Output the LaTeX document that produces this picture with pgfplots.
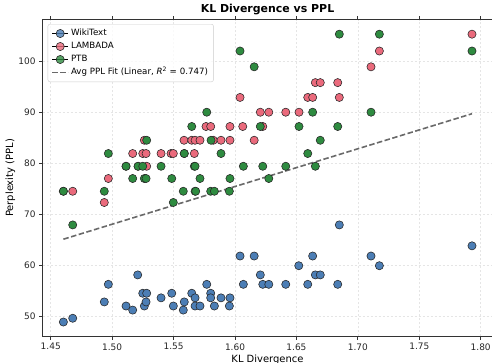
\documentclass[border=0pt]{standalone}
\usepackage{fontspec}
\setmainfont{DejaVu Sans}
\usepackage{pgfplots}
\usepackage{pgfplotstable}
\pgfplotsset{compat=1.18}
\definecolor{cwiki}{RGB}{76,126,181}
\definecolor{clam}{RGB}{234,106,124}
\definecolor{cptb}{RGB}{46,139,64}
\definecolor{spine}{RGB}{51,51,51}
\definecolor{fitc}{RGB}{105,105,105}

\pgfplotsset{
  scatter legend/.style={legend image code/.code={\path (0bp,0bp) -- (16bp,0bp); \draw[##1] plot coordinates {(8bp,0bp)};}},
  fit legend/.style={legend image code/.code={\draw[##1] (0bp,0bp) -- (16bp,0bp);}},
  mkstyle/.style={only marks, mark=*, mark size=4.1bp, mark options={draw=black!85, line width=0.55bp, fill=#1}},
  fitstyle/.style={fitc, dash pattern=on 5.5bp off 2.5bp, line width=1.6bp},
}

\pgfplotstableread{
x y
1.4603 48.96
1.4679 49.7
1.4936 52.9
1.4969 56.35
1.5113 52.1
1.5167 51.3
1.5208 58.2
1.5249 54.6
1.5262 52.1
1.5276 52.9
1.5281 54.6
1.5398 53.7
1.5485 54.6
1.5498 52.1
1.5579 51.3
1.5587 52.9
1.5648 54.6
1.5675 53.7
1.5675 52.1
1.5715 52.1
1.5770 56.35
1.5802 54.6
1.5802 53.7
1.5832 52.1
1.5886 53.7
1.5959 53.7
1.5954 52.1
1.6041 61.9
1.6068 56.35
1.6156 61.9
1.6206 58.2
1.6226 56.35
1.6275 56.35
1.6413 56.35
1.6519 60.0
1.6592 56.35
1.6632 61.9
1.6654 58.2
1.6694 58.2
1.6836 56.35
1.6849 68.0
1.7107 61.9
1.7175 60.0
1.7929 63.9
}\wiki

\pgfplotstableread{
x y
1.4603 74.6
1.5113 79.5
1.5211 79.5
1.5587 82.0
1.7929 105.4
1.7175 102.1
1.7107 99.0
1.6654 95.9
1.6694 95.9
1.6836 95.9
1.6041 93.0
1.6592 93.0
1.6632 93.0
1.6849 93.0
1.6206 90.1
1.6275 90.1
1.6413 90.1
1.6521 90.1
1.5764 87.3
1.5802 87.3
1.5959 87.3
1.6063 87.3
1.6226 87.3
1.5262 84.6
1.5585 84.6
1.5648 84.6
1.5675 84.6
1.5715 84.6
1.5823 84.6
1.5886 84.6
1.5959 84.6
1.6156 84.6
1.5167 82.0
1.5249 82.0
1.5276 82.0
1.5398 82.0
1.5479 82.0
1.5498 82.0
1.5669 82.0
1.5281 79.5
1.4969 77.1
1.4679 74.6
1.4936 72.4
}\lambada

\pgfplotstableread{
x y
1.6849 105.4
1.7175 105.4
1.6041 102.1
1.7929 102.1
1.6156 99.0
1.5770 90.1
1.6632 90.1
1.7107 90.1
1.5648 87.3
1.6206 87.3
1.6521 87.3
1.6836 87.3
1.5281 84.6
1.5805 84.6
1.6694 84.6
1.4969 82.0
1.5587 82.0
1.5886 82.0
1.6592 82.0
1.5113 79.5
1.5211 79.5
1.5249 79.5
1.5398 79.5
1.5669 79.5
1.5675 79.5
1.6068 79.5
1.6226 79.5
1.6413 79.5
1.6654 79.5
1.5167 77.1
1.5262 77.1
1.5276 77.1
1.5485 77.1
1.5715 77.1
1.5959 77.1
1.6275 77.1
1.4603 74.6
1.4936 74.6
1.5579 74.6
1.5675 74.6
1.5680 74.6
1.5802 74.6
1.5832 74.6
1.5954 74.6
1.5498 72.4
1.4679 68.0
}\ptb

\pgfplotstableread{
x y
1.4603 65.2
1.7929 89.8
}\fit

\begin{document}
\begin{tikzpicture}[x=1bp,y=1bp]
\useasboundingbox (0,0) rectangle (492,362);
\begin{axis}[
  at={(42.5bp,25.6bp)}, anchor=south west,
  scale only axis, width=450bp, height=316.5bp,
  xmin=1.4433, xmax=1.8096, ymin=46.14, ymax=108.2,
  xtick={1.45,1.50,1.55,1.60,1.65,1.70,1.75,1.80},
  ytick={50,60,70,80,90,100},
  /pgf/number format/assume math mode=true,
  xticklabel={\pgfmathprintnumber[fixed,fixed zerofill,precision=2]{\tick}},
  tick label style={font=\fontsize{9}{10}\selectfont, color=black!85},
  tick align=outside, major tick length=3.5bp,
  tick style={spine, line width=0.8bp},
  axis line style={spine, line width=0.9bp},
  grid=major,
  major grid style={black!10, dash pattern=on 2bp off 2bp, line width=0.5bp},
  legend style={at={(0.0116,0.987)}, anchor=north west, draw=black!20,
    rounded corners=2bp, fill=white, fill opacity=0.8, text opacity=1, draw opacity=1,
    inner xsep=3.5bp, inner ysep=2.8bp, font=\fontsize{8.7}{9.5}\selectfont,
    nodes={text height=6.4bp, text depth=1.8bp, inner ysep=2.4bp},
    row sep=0bp, /tikz/every even column/.append style={column sep=6.5bp}},
  legend cell align=left,
]
\addplot[fitstyle, forget plot] table[x=x,y=y] {\fit};
\addplot[mkstyle=cwiki, scatter legend] table[x=x,y=y] {\wiki};
\addlegendentry{WikiText}
\addplot[mkstyle=clam, scatter legend] table[x=x,y=y] {\lambada};
\addlegendentry{LAMBADA}
\addplot[mkstyle=cptb, scatter legend] table[x=x,y=y] {\ptb};
\addlegendentry{PTB}
\addlegendimage{fitstyle, fit legend}
\addlegendentry{Avg PPL Fit (Linear, \textit{R}\textsuperscript{2}\ =\ 0.747)}
\end{axis}
\node[font=\bfseries\fontsize{11}{13}\selectfont] at (267.5,352) {KL Divergence vs PPL};
\node[font=\fontsize{10}{12}\selectfont, anchor=base] at (267.5,-0.5) {KL Divergence};
\node[font=\fontsize{10}{12}\selectfont, rotate=90] at (10.5,184) {Perplexity (PPL)};
\end{tikzpicture}
\end{document}
